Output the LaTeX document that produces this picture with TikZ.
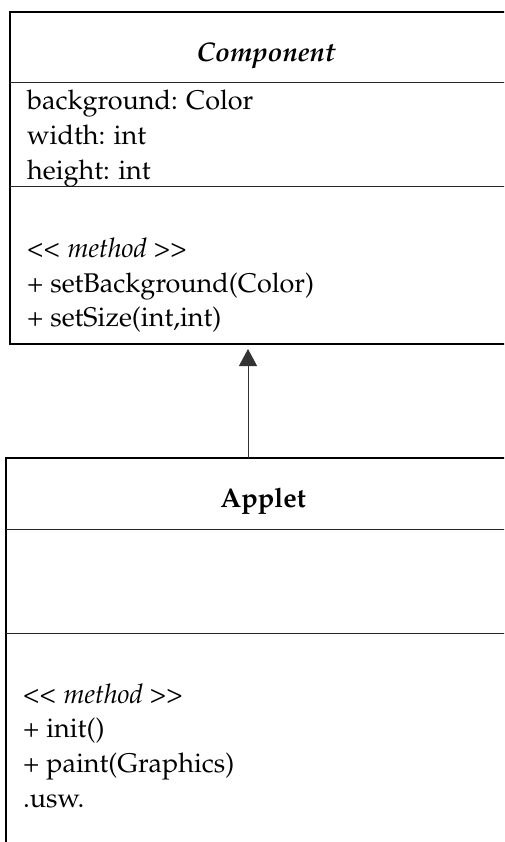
\documentclass[tikz,border=0pt]{standalone}
\usepackage[T1]{fontenc}
\usepackage{palatino}
\usetikzlibrary{arrows.meta}
\newcommand{\stereo}[1]{\itshape\textless\kern0pt\textless\kern1pt{} #1 \textgreater\kern0pt\textgreater}
\begin{document}
\begin{tikzpicture}[x=1pt,y=-1pt,
  classbox/.style={draw=black,line width=2pt,rectangle,inner sep=0pt},
  divider/.style={draw=black!85,line width=1pt},
  txt/.style={anchor=base west,inner sep=0pt,font=\fontsize{27}{35}\selectfont},
  ttl/.style={anchor=base,inner sep=0pt,font=\fontsize{27}{35}\selectfont\bfseries},
  inherit/.style={draw=black!80,line width=1pt,-{Triangle[width=18pt,length=17pt]},shorten >=5pt}]
\useasboundingbox (0,0) rectangle (504,842);
\clip (0,0) rectangle (504,842);
\fill[white] (0,0) rectangle (504,842);
% Component
\node[classbox,minimum width=512pt,minimum height=332pt] (comp) at (266,178) {};
\draw[divider] (10,83) -- (522,83);
\draw[divider] (10,187) -- (522,187);
\node[ttl] (compT) at (266,62) {\itshape Component};
\node[txt] (ca1) at (27,110) {background: Color};
\node[txt] (ca2) at (27,145) {width: int};
\node[txt] (ca3) at (27,180) {height: int};
\node[txt] (cm0) at (27,257) {\stereo{method}};
\node[txt] (cm1) at (27,292) {+ setBackground(Color)};
\node[txt] (cm2) at (27,326) {+ setSize(int,int)};
% Applet
\node[classbox,minimum width=514pt,minimum height=442pt] (appl) at (263,679) {};
\draw[divider] (6,529) -- (520,529);
\draw[divider] (6,633) -- (520,633);
\node[ttl] (applT) at (263,507) {Applet};
\node[txt] (am0) at (23,703) {\stereo{method}};
\node[txt] (am1) at (23,737) {+ init()};
\node[txt] (am2) at (23,772) {+ paint(Graphics)};
\node[txt] (am3) at (23,807) {.usw.};
% inheritance arrow
\coordinate (aTop) at (248,458);
\coordinate (cBot) at (248,344);
\draw[inherit] (aTop) -- (cBot);
\end{tikzpicture}
\end{document}
